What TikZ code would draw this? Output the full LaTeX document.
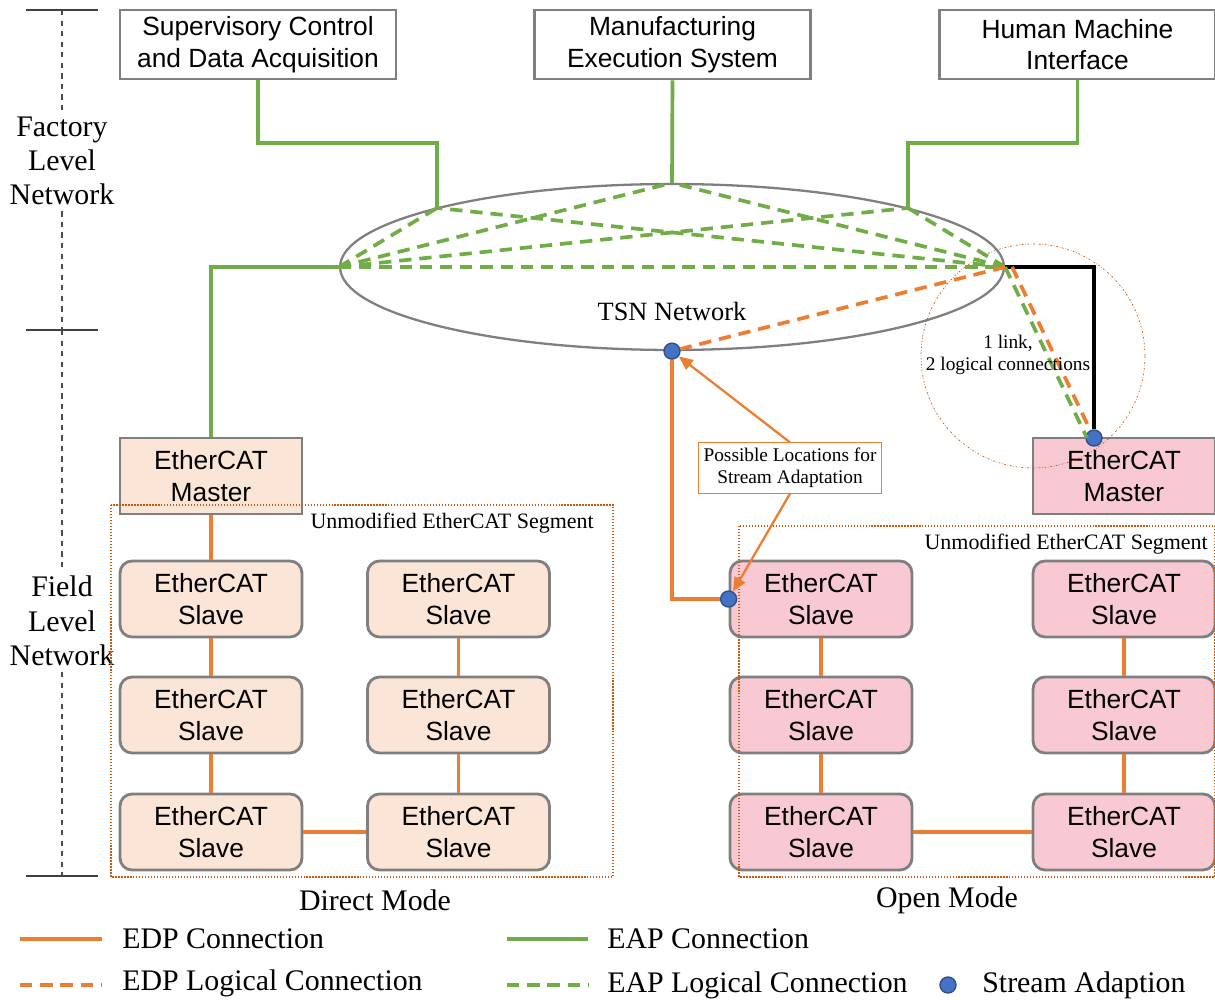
\documentclass[tikz,border=0pt]{standalone}
\usepackage{fontspec}
\setmainfont{Liberation Serif}
\newfontfamily\armfont{Liberation Sans}
\usetikzlibrary{calc,shapes.geometric,arrows.meta}
\definecolor{edp}{HTML}{ED7D31}
\definecolor{eap}{HTML}{70AD47}
\definecolor{adapt}{HTML}{4472C4}
\definecolor{frame}{HTML}{7F7F7F}
\definecolor{peach}{HTML}{FBE5D6}
\definecolor{rose}{HTML}{F8C9D2}
\definecolor{seg}{HTML}{C55A11}
\tikzset{
	sysbox/.style={draw=frame, line width=1.6pt, fill=white, minimum width=5.52cm, minimum height=1.38cm, align=center, font=\armfont\fontsize{15}{18}\selectfont},
	masterbox/.style={draw=frame, line width=1.6pt, minimum width=3.64cm, minimum height=1.52cm, align=center, font=\armfont\fontsize{15}{18}\selectfont},
	slavebox/.style={masterbox, rounded corners=0.24cm},
	edpline/.style={edp, line width=2.1pt},
	edpdash/.style={edpline, dash pattern=on 7pt off 4.5pt},
	eapline/.style={eap, line width=2.1pt},
	eapdash/.style={eapline, dash pattern=on 7pt off 4.5pt},
	adapter/.style={circle, draw=adapt!70!black, line width=0.8pt, fill=adapt, minimum size=0.32cm, inner sep=0pt},
	segframe/.style={draw=seg, densely dotted, line width=0.7pt},
	levelbar/.style={draw=black!70, dashed, line width=0.7pt},
	lbl/.style={font=\fontsize{17}{19.5}\selectfont, align=center},
	legtext/.style={font=\fontsize{17}{19}\selectfont, anchor=west, inner sep=0pt},
}

\begin{document}
\begin{tikzpicture}[x=0.02cm, y=-0.02cm]
\useasboundingbox (0,0) rectangle (1215,1000);

\coordinate (t1) at (62,10);
\coordinate (t2) at (62,330);
\coordinate (t3) at (62,876);
\draw[black!75, line width=0.9pt] (26,10) -- (98,10);
\draw[black!75, line width=0.9pt] (26,330) -- (98,330);
\draw[black!75, line width=0.9pt] (26,876) -- (98,876);
\node[lbl] (factory) at (62,161) {Factory\\Level\\Network};
\node[lbl] (field) at (62,621) {Field\\Level\\Network};
\draw[levelbar] (t1) -- (factory);
\draw[levelbar] (factory) -- (t2);
\draw[levelbar] (t2) -- (field);
\draw[levelbar] (field) -- (t3);

\node[sysbox] (scada) at (258,44.5) {Supervisory Control\\and Data Acquisition};
\node[sysbox] (mes) at (672.5,44.5) {Manufacturing\\Execution System};
\node[sysbox] (hmi) at (1077.5,44.5) {Human Machine\\Interface};

\node[ellipse, draw=frame, line width=1.3pt, minimum width=13.28cm, minimum height=3.32cm, inner sep=0pt] (tsn) at (672,267) {};
\node[font=\fontsize{15}{18}\selectfont] (tsnlabel) at (672,311) {TSN Network};
\coordinate (tA) at (437,208);
\coordinate (tB) at (908,208);
\coordinate (kA) at (437,143);
\coordinate (kB) at (908,143);

\node[masterbox, fill=peach] (masterL) at (211,476) {EtherCAT\\Master};
\node[masterbox, fill=rose] (masterR) at (1124,476) {EtherCAT\\Master};

\node[slavebox, fill=peach] (sL1) at (211,599) {EtherCAT\\Slave};
\node[slavebox, fill=peach] (sL2) at (211,715) {EtherCAT\\Slave};
\node[slavebox, fill=peach] (sL3) at (211,832) {EtherCAT\\Slave};
\node[slavebox, fill=peach] (sL4) at (458.5,599) {EtherCAT\\Slave};
\node[slavebox, fill=peach] (sL5) at (458.5,715) {EtherCAT\\Slave};
\node[slavebox, fill=peach] (sL6) at (458.5,832) {EtherCAT\\Slave};
\node[slavebox, fill=rose] (sR1) at (821,599) {EtherCAT\\Slave};
\node[slavebox, fill=rose] (sR2) at (821,715) {EtherCAT\\Slave};
\node[slavebox, fill=rose] (sR3) at (821,832) {EtherCAT\\Slave};
\node[slavebox, fill=rose] (sR4) at (1124,599) {EtherCAT\\Slave};
\node[slavebox, fill=rose] (sR5) at (1124,715) {EtherCAT\\Slave};
\node[slavebox, fill=rose] (sR6) at (1124,832) {EtherCAT\\Slave};

\draw[segframe] (111,505) rectangle (613,877);
\draw[segframe] (739,526) rectangle (1215,877);
\node[font=\fontsize{12.5}{15}\selectfont, anchor=east, inner sep=0pt] (segL) at (594,523) {Unmodified EtherCAT Segment};
\node[font=\fontsize{12.5}{15}\selectfont, anchor=east, inner sep=0pt] (segR) at (1208,544) {Unmodified EtherCAT Segment};

\draw[eapline] (scada.south) |- (kA) -- (tA);
\draw[eapline] (mes.south) -- (tsn.north);
\draw[eapline] (hmi.south) |- (kB) -- (tB);
\draw[eapline] (tsn.west) -| (masterL.north);

\draw[eapdash] (tsn.west) -- (tsn.east);
\draw[eapdash] (tsn.west) -- (tA);
\draw[eapdash] (tsn.west) -- (tsn.north);
\draw[eapdash] (tsn.west) -- (tB);
\draw[eapdash] (tsn.east) -- (tA);
\draw[eapdash] (tsn.east) -- (tsn.north);
\draw[eapdash] (tsn.east) -- (tB);

\draw[edpline] (masterL) -- (sL1);
\draw[edpline] (sL1) -- (sL2);
\draw[edpline] (sL2) -- (sL3);
\draw[edpline] (sL3) -- (sL6);
\draw[edpline] (sL6) -- (sL5);
\draw[edpline] (sL5) -- (sL4);
\draw[edpline] (sR1) -- (sR2);
\draw[edpline] (sR2) -- (sR3);
\draw[edpline] (sR3) -- (sR6);
\draw[edpline] (sR6) -- (sR5);
\draw[edpline] (sR5) -- (sR4);

\node[circle, draw=seg, dash pattern=on 1pt off 1pt on 0.3pt off 1pt, line width=0.4pt, minimum size=4.48cm, inner sep=0pt] (linkring) at (1033,356) {};
\node[adapter] (adR) at (1094,438) {};
\draw[black, line width=2.2pt] (tsn.east) -| (adR);
\draw[eapdash] (tsn.east) -- ($(adR)+(-7,0)$);
\draw[edpdash] ($(tsn.east)+(7,0)$) -- (adR);
\node[font=\fontsize{11}{12.5}\selectfont, align=center] (linktext) at (1008,355) {1 link,\\2 logical connections};

\node[adapter] (sa1) at (tsn.south) {};
\node[adapter] (sa2) at (sR1.west) {};
\draw[edpdash] (tsn.east) -- (sa1);
\draw[edp, line width=2.3pt] (sa2) -| (sa1);

\node[draw=edp, line width=0.6pt, fill=white, align=center, font=\fontsize{11}{12.5}\selectfont, inner sep=3pt] (callout) at (790,468) {Possible Locations for\\Stream Adaptation};
\draw[edp, line width=1.3pt, -{Triangle[length=0.28cm, width=0.24cm]}] (callout.north) -- (sa1);
\draw[edp, line width=1.3pt, -{Triangle[length=0.28cm, width=0.24cm]}] (callout.south) -- (sa2);

\node[lbl] (direct) at (375,900) {Direct Mode};
\node[lbl] (open) at (947,900) {Open Mode};

\coordinate (lg1a) at (20,939);
\coordinate (lg1b) at (102,939);
\coordinate (lg2a) at (20,985);
\coordinate (lg2b) at (102,985);
\coordinate (lg3a) at (507,939);
\coordinate (lg3b) at (588,939);
\coordinate (lg4a) at (507,985);
\coordinate (lg4b) at (588,985);
\draw[edpline] (lg1a) -- (lg1b);
\draw[edpdash] (lg2a) -- (lg2b);
\draw[eapline] (lg3a) -- (lg3b);
\draw[eapdash] (lg4a) -- (lg4b);
\node[legtext] (lgt1) at (122,939) {EDP Connection};
\node[legtext] (lgt2) at (122,983) {EDP Logical Connection};
\node[legtext] (lgt3) at (607,939) {EAP Connection};
\node[legtext] (lgt4) at (607,985) {EAP Logical Connection};
\node[adapter] (lgdot) at (948,985) {};
\node[legtext] (lgt5) at (982,985) {Stream Adaption};
\end{tikzpicture}
\end{document}
